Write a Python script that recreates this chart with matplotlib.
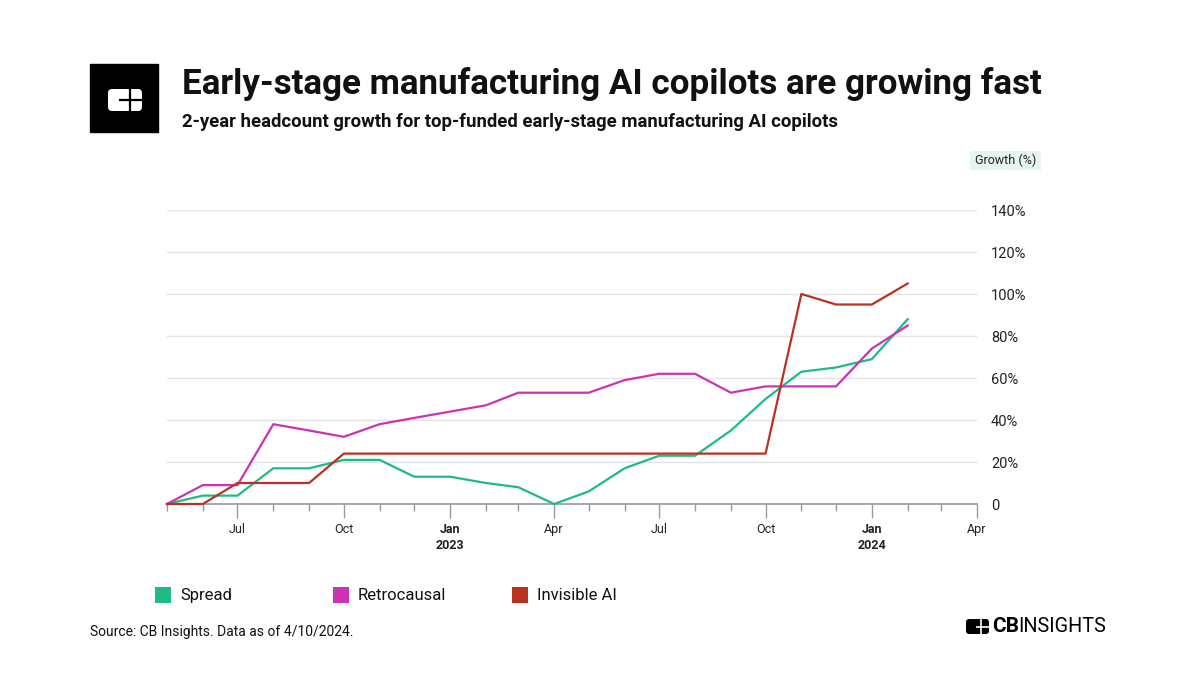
"""Early-stage manufacturing AI copilots: 2-year headcount growth."""

import matplotlib
matplotlib.use("Agg")
import matplotlib.pyplot as plt
import matplotlib.dates as mdates
import pandas as pd
from matplotlib.patches import FancyBboxPatch, Rectangle

plt.rcParams["font.family"] = ["Roboto", "DejaVu Sans"]

INK = "#111111"
GRID = "#e4e4e4"
AXIS = "#9a9a9a"
GREEN = "#1dbb86"
MAGENTA = "#cc33b3"
RED = "#b83222"

months = [
    "2022-05", "2022-06", "2022-07", "2022-08", "2022-09", "2022-10",
    "2022-11", "2022-12", "2023-01", "2023-02", "2023-03", "2023-04",
    "2023-05", "2023-06", "2023-07", "2023-08", "2023-09", "2023-10",
    "2023-11", "2023-12", "2024-01", "2024-02",
]
spread = [0, 4, 4, 17, 17, 21, 21, 13, 13, 10, 8, 0,
          6, 17, 23, 23, 35, 50, 63, 65, 69, 88]
retrocausal = [0, 9, 9, 38, 35, 32, 38, 41, 44, 47, 53, 53,
               53, 59, 62, 62, 53, 56, 56, 56, 74, 85]
invisible_ai = [0, 0, 10, 10, 10, 24, 24, 24, 24, 24, 24, 24,
                24, 24, 24, 24, 24, 24, 100, 95, 95, 105]

series = [("Spread", spread, GREEN),
          ("Retrocausal", retrocausal, MAGENTA),
          ("Invisible AI", invisible_ai, RED)]

y_ticks = [0, 20, 40, 60, 80, 100, 120, 140]
y_labels = ["0", "20%", "40%", "60%", "80%", "100%", "120%", "140%"]
quarter_ticks = ["2022-07", "2022-10", "2023-01", "2023-04",
                 "2023-07", "2023-10", "2024-01", "2024-04"]
quarter_labels = ["Jul", "Oct", "Jan", "Apr", "Jul", "Oct", "Jan", "Apr"]
year_labels = [("2023-01", "2023"), ("2024-01", "2024")]

W, H = 1200, 675
fig = plt.figure(figsize=(W / 100, H / 100), dpi=100, facecolor="white")

# overlay in pixel coordinates for header / footer decoration
deco = fig.add_axes([0, 0, 1, 1])
deco.set_xlim(0, W)
deco.set_ylim(H, 0)
deco.axis("off")

# header logo
deco.add_patch(Rectangle((90, 64), 68, 68, color="black"))
deco.add_patch(FancyBboxPatch((108, 89), 34, 22, boxstyle="round,pad=0,rounding_size=4",
                              color="white", lw=0))
deco.plot([119, 142], [99.5, 99.5], color="black", lw=1.6, solid_capstyle="butt")
deco.plot([130, 130], [89, 111], color="black", lw=1.6, solid_capstyle="butt")

deco.text(182, 84, "Early-stage manufacturing AI copilots are growing fast",
          fontsize=25.2, fontweight="bold", color=INK, ha="left", va="center")
deco.text(182, 122, "2-year headcount growth for top-funded early-stage manufacturing AI copilots",
          fontsize=13.3, fontweight="bold", color=INK, ha="left", va="center")

# axis title badge
deco.add_patch(Rectangle((970, 151), 71, 19, color="#e6f5f1", lw=0))
deco.text(1005.5, 160.5, "Growth (%)", fontsize=9, color="#222222", ha="center", va="center")

# legend
legend_x = [155, 333, 512]
for (name, _, color), lx in zip(series, legend_x):
    deco.add_patch(Rectangle((lx, 587), 16, 16, color=color, lw=0))
    deco.text(lx + 25, 595.5, name, fontsize=12, color=INK, ha="left", va="center")

deco.text(90, 632, "Source: CB Insights. Data as of 4/10/2024.",
          fontsize=10, color=INK, ha="left", va="center")

# footer logo
deco.add_patch(FancyBboxPatch((966, 619), 23, 15, boxstyle="round,pad=0,rounding_size=3",
                              color="black", lw=0))
deco.plot([976, 989], [626.5, 626.5], color="white", lw=1.2, solid_capstyle="butt")
deco.plot([981, 981], [619, 634], color="white", lw=1.2, solid_capstyle="butt")
deco.text(992, 627, "CB", fontsize=15, fontweight="bold", color="black",
          ha="left", va="center")
deco.text(1018, 627, "INSIGHTS", fontsize=14.3, color="black", ha="left", va="center")

# main chart
ax = fig.add_axes([167 / W, 1 - 504 / H, (977 - 167) / W, (504 - 210) / H])
dates = pd.to_datetime(months)
for name, values, color in series:
    ax.plot(dates, values, color=color, lw=1.6, label=name, clip_on=False, zorder=3)

ax.set_ylim(0, 140)
ax.set_xlim(pd.Timestamp("2022-05-01"), pd.Timestamp("2024-04-01"))
ax.set_yticks(y_ticks)
ax.set_yticklabels(y_labels)
ax.yaxis.tick_right()
ax.tick_params(axis="y", length=0, pad=10, labelsize=10.5, labelcolor="#222222")
ax.grid(axis="y", color=GRID, lw=1)
ax.set_axisbelow(True)

ax.set_xticks(pd.to_datetime(quarter_ticks))
ax.set_xticklabels(quarter_labels)
ax.xaxis.set_minor_locator(mdates.MonthLocator())
ax.tick_params(axis="x", which="major", length=10, color=AXIS, width=1,
               labelsize=9, labelcolor="#222222", pad=4)
ax.tick_params(axis="x", which="minor", length=5, color=AXIS, width=1)
for label in ax.get_xticklabels():
    if label.get_text() == "Jan":
        label.set_fontweight("bold")

for month, text in year_labels:
    ax.text(pd.Timestamp(month), -0.14, text, transform=ax.get_xaxis_transform(),
            fontsize=9, fontweight="bold", color="#222222", ha="center", va="center")

for side in ("top", "left", "right"):
    ax.spines[side].set_visible(False)
ax.spines["bottom"].set_color(AXIS)
ax.spines["bottom"].set_linewidth(1.2)

fig.savefig("out.png", dpi=100, facecolor="white")
